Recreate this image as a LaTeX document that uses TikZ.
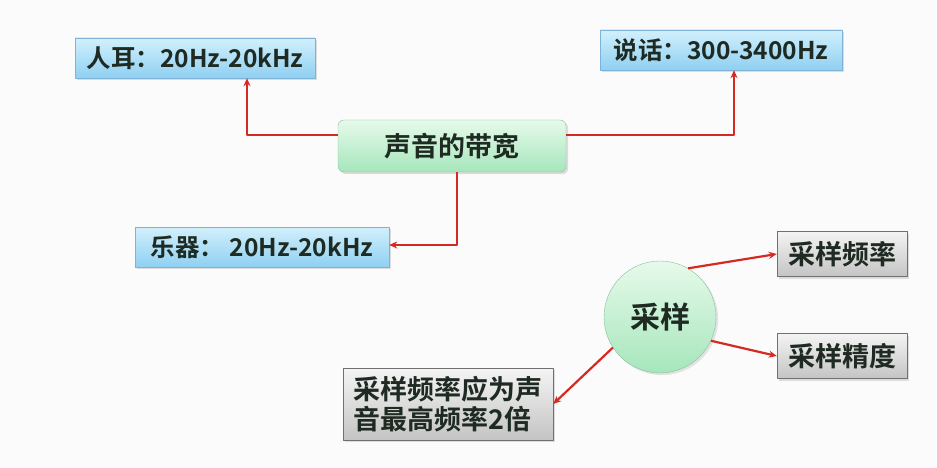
\documentclass[tikz,border=0pt]{standalone}
\usepackage{fontspec}
\newfontfamily\cjk{Noto Sans CJK SC Bold}
\usetikzlibrary{shadows,arrows.meta}
\definecolor{linered}{HTML}{D42A22}
\definecolor{bluetop}{HTML}{D2F0FC}
\definecolor{bluebot}{HTML}{8FD0F2}
\definecolor{blueedge}{HTML}{7FB2D6}
\definecolor{greentop}{HTML}{E6FAEA}
\definecolor{greenbot}{HTML}{A6E6BC}
\definecolor{greenedge}{HTML}{8CBF9C}
\definecolor{graytop}{HTML}{F4F4F4}
\definecolor{graybot}{HTML}{C4C4C4}
\definecolor{grayedge}{HTML}{707070}
\definecolor{txt}{HTML}{1E2A22}
\tikzset{
  bluebox/.style={draw=blueedge, top color=bluetop, bottom color=bluebot, minimum height=40pt,
    inner sep=0pt, font=\cjk\fontsize{24.5}{28}\selectfont, text=txt, drop shadow={opacity=0.25}},
  greenbox/.style={draw=greenedge, top color=greentop, bottom color=greenbot, rounded corners=6pt,
    minimum width=228pt, minimum height=52pt, font=\cjk\fontsize{27}{30}\selectfont, text=txt,
    drop shadow={opacity=0.25}},
  graybox/.style={draw=grayedge, top color=graytop, bottom color=graybot, minimum height=45pt,
    inner sep=0pt, font=\cjk\fontsize{27}{30}\selectfont, text=txt, drop shadow={opacity=0.25}},
  link/.style={->, draw=linered, line width=2.2pt}
}
\begin{document}
\begin{tikzpicture}[x=1pt, y=-1pt, line join=round, >={Stealth[length=8pt,width=7pt]}]
	\useasboundingbox[fill=white!97!gray] (0,0) rectangle (937,468);
	% bandwidth
	\node[greenbox] (band) at (452,146) {声音的带宽};
	\node[bluebox, minimum width=240pt] (ear) at (195,58) {人耳：20Hz-20kHz};
	\node[bluebox, minimum width=242pt] (talk) at (721,50) {说话：300-3400Hz};
	\node[bluebox, minimum width=254pt] (music) at (262,247) {乐器： 20Hz-20kHz};
	\draw[link] (band.west|-0,135) -| (ear.south-|247,0);
	\draw[link] (band.east|-0,135) -| (talk.south-|734,0);
	\draw[link] (band.south-|457,0) |- (music.east|-0,245);
	% sampling
	\node[circle, draw=greenedge, top color=greentop, bottom color=greenbot, minimum size=112pt,
	  font=\cjk\fontsize{30}{34}\selectfont, text=txt, drop shadow={opacity=0.2}] (samp) at (660,317) {采样};
	\node[graybox, minimum width=130pt] (rate) at (842,254) {采样频率};
	\node[graybox, minimum width=130pt] (depth) at (842,356) {采样精度};
	\node[graybox, minimum width=210pt, minimum height=72pt, align=left] (rule) at (448,404)
	  {采样频率应为声\\音最高频率2倍};
	\draw[link] (samp.60) -- (rate.west);
	\draw[link] (samp.-25) -- (depth.west);
	\draw[link] (samp.213) -- (rule.east);
\end{tikzpicture}
\end{document}
